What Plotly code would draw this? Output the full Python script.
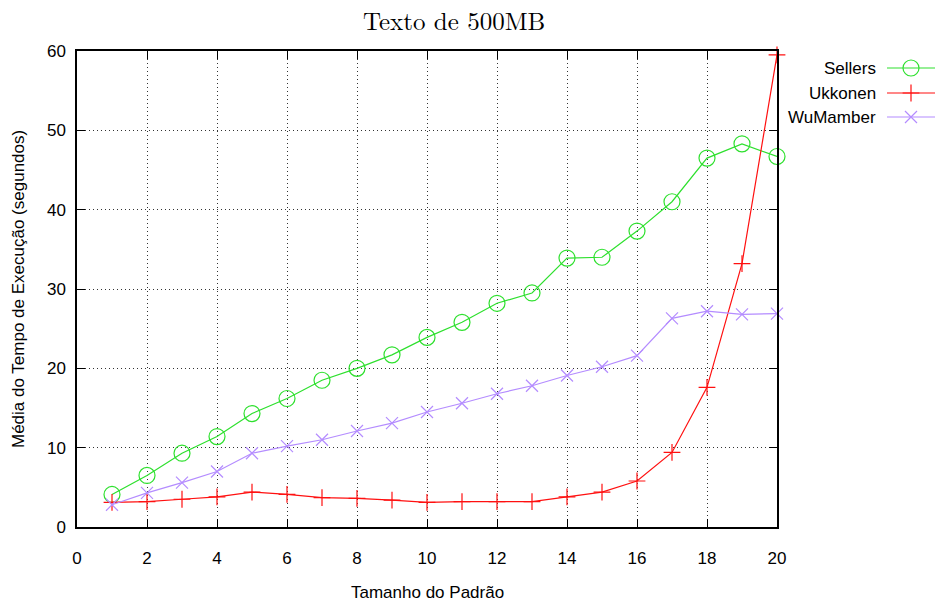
import plotly.graph_objects as go

# Pattern sizes (x) and mean execution times (seconds) for each algorithm
tamanhos = list(range(1, 21))
sellers = [4.1, 6.5, 9.3, 11.4, 14.3, 16.2, 18.5, 20.0, 21.7, 23.9,
           25.8, 28.2, 29.5, 33.9, 34.0, 37.3, 41.0, 46.5, 48.3, 46.7]
ukkonen = [3.1, 3.2, 3.5, 3.8, 4.4, 4.1, 3.7, 3.6, 3.4, 3.1,
           3.2, 3.2, 3.2, 3.8, 4.4, 5.8, 9.4, 17.6, 33.2, 59.5]
wumamber = [2.8, 4.3, 5.6, 7.0, 9.3, 10.2, 11.0, 12.1, 13.1, 14.5,
            15.6, 16.8, 17.8, 19.1, 20.2, 21.6, 26.3, 27.2, 26.8, 26.9]

series_names = ["Sellers", "Ukkonen", "WuMamber"]
series_values = [sellers, ukkonen, wumamber]
series_colors = ["#2ee02e", "#ff1010", "#b48cff"]
series_symbols = ["circle-open", "cross-thin-open", "x-thin-open"]
series_sizes = [16, 12, 12]

x_ticks = list(range(0, 21, 2))
y_ticks = list(range(0, 61, 10))

W, H = 935, 603
L, R, T, B = 77, 0, 51, 76
plot_right = 777
x_frac = (plot_right - L) / (W - L - R)
plot_h = H - T - B

sans = "Liberation Sans, Arial, Helvetica, sans-serif"
axis_font = dict(family=sans, size=17, color="black")

fig = go.Figure()

for name, vals, col, sym, sz in zip(series_names, series_values,
                                    series_colors, series_symbols, series_sizes):
    fig.add_trace(go.Scatter(
        x=tamanhos, y=vals, mode="lines+markers", name=name,
        line=dict(color=col, width=1.2),
        marker=dict(symbol=sym, size=sz, color=col, line=dict(color=col, width=1.2)),
        showlegend=False, cliponaxis=False,
    ))

# Key in gnuplot style: label on the left, sample line + symbol on the right
key_y = [68, 93, 117]
for name, col, sym, sz, ky in zip(series_names, series_colors, series_symbols,
                                  series_sizes, key_y):
    fig.add_trace(go.Scatter(
        x=[887, 935], y=[ky, ky], mode="lines", xaxis="x2", yaxis="y2",
        line=dict(color=col, width=1.2), showlegend=False, hoverinfo="skip",
        cliponaxis=False,
    ))
    fig.add_trace(go.Scatter(
        x=[911], y=[ky], mode="markers", xaxis="x2", yaxis="y2",
        marker=dict(symbol=sym, size=sz, color=col, line=dict(color=col, width=1.2)),
        showlegend=False, hoverinfo="skip", cliponaxis=False,
    ))
    fig.add_annotation(
        x=878, y=ky, xref="x2", yref="y2", text=name, showarrow=False,
        xanchor="right", yanchor="middle", font=axis_font,
    )

# Chart title
fig.add_annotation(
    x=(454 - L) / (W - L), y=1 + (T - 19) / plot_h, xref="paper", yref="paper",
    text="Texto de 500MB", showarrow=False, xanchor="center", yanchor="middle",
    font=dict(family="Latin Modern Roman, CMU Serif, Liberation Serif, serif",
              size=25, color="black"),
)

# Axis titles
fig.add_annotation(
    x=(427 - L) / (W - L), y=-(592 - (H - B)) / plot_h, xref="paper", yref="paper",
    text="Tamanho do Padrão", showarrow=False, xanchor="center", yanchor="middle",
    font=axis_font,
)
fig.add_annotation(
    x=-(L - 18) / (W - L), y=0.5, xref="paper", yref="paper",
    text="Média do Tempo de Execução (segundos)", showarrow=False, textangle=-90,
    xanchor="center", yanchor="middle", font=axis_font,
)

grid = dict(showgrid=True, gridcolor="#333333", gridwidth=1, griddash="1px,3px")

fig.update_layout(
    width=W, height=H,
    margin=dict(l=L, r=R, t=T, b=B, autoexpand=False),
    paper_bgcolor="white", plot_bgcolor="rgba(0,0,0,0)",
    xaxis=dict(
        domain=[0, x_frac], range=[0, 20], tickvals=x_ticks, automargin=False,
        ticks="inside", ticklen=8, tickwidth=1, tickcolor="black",
        showline=True, linecolor="black", linewidth=1.5, mirror="ticks",
        zeroline=False, tickfont=axis_font, ticklabelstandoff=15, **grid,
    ),
    yaxis=dict(
        range=[0, 60], tickvals=y_ticks, automargin=False,
        ticks="inside", ticklen=8, tickwidth=1, tickcolor="black",
        showline=True, linecolor="black", linewidth=1.5, mirror="ticks",
        zeroline=False, tickfont=axis_font, ticklabelstandoff=6, **grid,
    ),
    xaxis2=dict(domain=[0, 1], range=[L, W], visible=False, anchor="y2",
                fixedrange=True, automargin=False),
    yaxis2=dict(domain=[0, 1], range=[H - B, T], visible=False, anchor="x2",
                fixedrange=True, automargin=False),
)

fig.write_html("out.html")
